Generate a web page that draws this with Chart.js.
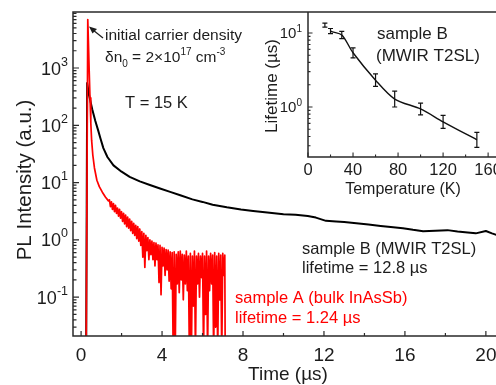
<!DOCTYPE html>
<html>
<head>
<meta charset="utf-8">
<script src="https://cdn.jsdelivr.net/npm/chart.js@4.4.1/dist/chart.umd.min.js"></script>
<style>
  html, body { margin: 0; padding: 0; background: #fff; overflow: hidden; }
  #wrap { position: relative; width: 496px; height: 385px; }
  #main { position: absolute; left: 0; top: 0; }
  #inset { position: absolute; left: 240px; top: 0; }
</style>
</head>
<body>
<div id="wrap">
  <canvas id="main" width="496" height="385"></canvas>
  <canvas id="inset" width="256" height="205"></canvas>
</div>
<script>
// Datos: PL transitorio, muestra A (InAsSb) y muestra B (T2SL)
const redTime = [0.25, 0.33, 0.36, 0.40, 0.44, 0.48, 0.52, 0.58, 0.66, 0.78, 0.90, 1.05, 1.20, 1.35,
  1.40, 1.45, 1.50, 1.55, 1.60, 1.65, 1.70, 1.75, 1.80, 1.85, 1.90, 1.95, 2.00, 2.05, 2.10, 2.15,
  2.20, 2.25, 2.30, 2.35, 2.40, 2.45, 2.50, 2.55, 2.60, 2.65, 2.70, 2.75, 2.80, 2.85, 2.90, 2.95,
  3.00, 3.05, 3.10, 3.15, 3.20, 3.25, 3.30, 3.35, 3.40, 3.45, 3.50, 3.55, 3.60, 3.65, 3.70, 3.75,
  3.80, 3.85, 3.90, 3.95, 4.00, 4.05, 4.10, 4.15, 4.20, 4.25, 4.30, 4.35, 4.40, 4.45, 4.50, 4.55,
  4.60, 4.65, 4.70, 4.75, 4.80, 4.85, 4.90, 4.95, 5.00, 5.05, 5.10, 5.15, 5.20, 5.25, 5.30, 5.35,
  5.40, 5.45, 5.50, 5.55, 5.60, 5.65, 5.70, 5.75, 5.80, 5.85, 5.90, 5.95, 6.00, 6.05, 6.10, 6.15,
  6.20, 6.25, 6.30, 6.35, 6.40, 6.45, 6.50, 6.55, 6.60, 6.65, 6.70, 6.75, 6.80, 6.85, 6.90, 6.95,
  7.00, 7.05, 7.10, 7.12];
const redPL = [0.01, 7000, 3000, 900, 300, 110, 55, 30, 18, 11, 8.5, 6.8, 5.6, 4.8,
  5.0, 3.8, 4.6, 3.4, 4.3, 3.1, 4.0, 2.9, 3.6, 2.6, 3.4, 2.4, 3.1, 2.1, 2.9, 1.9,
  2.7, 1.7, 2.5, 1.6, 2.3, 1.45, 2.1, 1.3, 1.95, 1.2, 1.8, 1.05, 1.7, 0.95, 1.55, 0.8,
  1.4, 0.5, 1.3, 0.33, 1.2, 0.65, 1.1, 0.45, 1.0, 0.55, 0.95, 0.45, 0.9, 0.35, 0.88, 0.45,
  0.82, 0.18, 0.8, 0.11, 0.74, 0.35, 0.72, 0.24, 0.68, 0.3, 0.66, 0.19, 0.62, 0.14, 0.6, 0.01,
  0.62, 0.01, 0.56, 0.17, 0.62, 0.12, 0.64, 0.2, 0.56, 0.09, 0.54, 0.17, 0.64, 0.13, 0.52, 0.01,
  0.58, 0.01, 0.52, 0.07, 0.64, 0.01, 0.52, 0.17, 0.58, 0.1, 0.52, 0.22, 0.58, 0.01, 0.52, 0.05,
  0.64, 0.01, 0.52, 0.13, 0.58, 0.17, 0.54, 0.01, 0.6, 0.03, 0.52, 0.01, 0.58, 0.09, 0.54, 0.01,
  0.58, 0.24, 0.54, 0.01];

const blackTime = [0.25, 0.30, 0.40, 0.55, 0.70, 0.85, 0.95, 1.10, 1.30, 1.60, 2.00, 2.40, 2.90,
  3.40, 3.90, 4.40, 4.90, 5.50, 6.00, 6.50, 7.20, 7.90, 8.50, 9.20, 10.0, 10.6, 11.2, 11.6, 12.1,
  12.6, 13.0, 13.6, 14.2, 14.8, 15.3, 15.9, 16.4, 16.9, 17.5, 18.1, 18.6, 19.1, 19.5, 20.0, 20.3, 20.6];
const blackPL = [0.01, 550, 330, 190, 120, 80, 60, 40, 28, 20, 15.5, 12.6, 10.5,
  9.1, 7.9, 6.9, 6.0, 5.1, 4.6, 4.1, 3.7, 3.4, 3.2, 3.0, 2.8, 2.75, 2.6, 2.45, 2.15,
  2.1, 2.05, 1.95, 1.85, 1.75, 1.68, 1.6, 1.5, 1.42, 1.45, 1.48, 1.4, 1.35, 1.3, 1.43, 1.3, 1.2];

const timeTicks = [0, 4, 8, 12, 16, 20];
const plDecades = [-1, 0, 1, 2, 3];

// Inserto: tiempo de vida vs temperatura
const tempK = [15, 20, 30, 40, 60, 77, 100, 120, 150];
const lifeUs = [12.8, 10.6, 9.4, 5.4, 2.3, 1.28, 0.94, 0.63, 0.36];
const lifeLow = [12.0, 9.8, 8.4, 4.6, 1.9, 1.0, 0.78, 0.515, 0.285];
const lifeHigh = [13.6, 11.5, 10.5, 6.3, 2.8, 1.64, 1.13, 0.77, 0.455];
const tempTicks = [0, 40, 80, 120, 160];
const lifeDecades = [0, 1];

const FONT = '"Liberation Sans", Arial, Helvetica, sans-serif';
const INK = '#1c1c1c';
const RED = '#ff0000';

function toXY(xs, ys) {
  return xs.map((x, i) => ({ x: x, y: ys[i] }));
}

// texto con super/subíndices: parts = [[texto, 'n'|'sup'|'sub'], ...]
function richText(ctx, x, y, parts, size, small, shift, align) {
  const fontOf = k => (k === 'n' ? size : small) + 'px ' + FONT;
  let total = 0;
  parts.forEach(p => { ctx.font = fontOf(p[1]); total += ctx.measureText(p[0]).width; });
  let cx = align === 'right' ? x - total : align === 'center' ? x - total / 2 : x;
  ctx.save();
  ctx.textAlign = 'left';
  ctx.textBaseline = 'alphabetic';
  parts.forEach(p => {
    ctx.font = fontOf(p[1]);
    const dy = p[1] === 'sup' ? -shift : p[1] === 'sub' ? shift * 0.7 : 0;
    ctx.fillText(p[0], cx, y + dy);
    cx += ctx.measureText(p[0]).width;
  });
  ctx.restore();
}

function logTicks(decades, lo, hi) {
  const out = [];
  for (let e = decades[0] - 1; e <= decades[decades.length - 1] + 1; e++) {
    for (let m = 1; m <= 9; m++) {
      const v = m * Math.pow(10, e);
      if (v >= lo && v <= hi) out.push({ v: v, major: m === 1 });
    }
  }
  return out;
}

const mainDecor = {
  id: 'mainDecor',
  afterDraw(chart) {
    const { ctx, chartArea: a, scales: { x, y } } = chart;
    ctx.save();
    ctx.strokeStyle = '#2a2a2a';
    ctx.lineWidth = 1.5;
    ctx.beginPath();
    ctx.moveTo(a.right, a.top); ctx.lineTo(a.left, a.top);
    ctx.lineTo(a.left, a.bottom); ctx.lineTo(a.right, a.bottom);
    ctx.stroke();

    ctx.lineWidth = 1.2;
    ctx.beginPath();
    for (let t = 0; t <= 20; t += 2) {
      const px = x.getPixelForValue(t);
      ctx.moveTo(px, a.bottom);
      ctx.lineTo(px, a.bottom - (t % 4 === 0 ? 5 : 3));
    }
    logTicks(plDecades, y.min, y.max).forEach(tk => {
      const py = y.getPixelForValue(tk.v);
      ctx.moveTo(a.left, py);
      ctx.lineTo(a.left + (tk.major ? 6 : 3.5), py);
    });
    ctx.stroke();

    ctx.fillStyle = INK;
    ctx.font = '19px ' + FONT;
    ctx.textAlign = 'center';
    ctx.textBaseline = 'alphabetic';
    timeTicks.forEach(t => ctx.fillText(String(t), x.getPixelForValue(t), 361));
    plDecades.forEach(e => {
      const py = y.getPixelForValue(Math.pow(10, e));
      richText(ctx, 68, py + 6.5, [['10', 'n'], [String(e), 'sup']], 18, 12.5, 9, 'right');
    });

    ctx.font = '19px ' + FONT;
    ctx.textAlign = 'center';
    ctx.fillText('Time (\u00b5s)', 288, 380);
    ctx.save();
    ctx.translate(31, 180);
    ctx.rotate(-Math.PI / 2);
    ctx.font = '20.5px ' + FONT;
    ctx.fillText('PL Intensity (a.u.)', 0, 0);
    ctx.restore();

    // flecha
    ctx.strokeStyle = INK;
    ctx.lineWidth = 1.3;
    ctx.beginPath();
    ctx.moveTo(103, 38); ctx.lineTo(93, 30);
    ctx.stroke();
    ctx.beginPath();
    ctx.moveTo(89, 26.5); ctx.lineTo(97, 29); ctx.lineTo(92.5, 33.5); ctx.closePath();
    ctx.fill();

    ctx.font = '15.5px ' + FONT;
    ctx.textAlign = 'left';
    ctx.fillText('initial carrier density', 105, 40);
    richText(ctx, 105, 62, [['\u03b4n', 'n'], ['0', 'sub'], [' = 2\u00d710', 'n'], ['17', 'sup'], [' cm', 'n'], ['-3', 'sup']], 15.5, 10, 7.5, 'left');
    ctx.font = '16.5px ' + FONT;
    ctx.fillText('T = 15 K', 125, 108);
    ctx.fillText('sample B (MWIR T2SL)', 302, 254);
    ctx.fillText('lifetime = 12.8 \u00b5s', 302, 273);
    ctx.fillStyle = RED;
    ctx.fillText('sample A (bulk InAsSb)', 235, 303);
    ctx.fillText('lifetime = 1.24 \u00b5s', 235, 323);
    ctx.restore();
  }
};

new Chart(document.getElementById('main'), {
  type: 'line',
  data: {
    datasets: [
      { data: toXY(redTime, redPL), borderColor: RED, borderWidth: 1.7, pointRadius: 0, borderJoinStyle: 'round' },
      { data: toXY(blackTime, blackPL), borderColor: '#000', borderWidth: 2, pointRadius: 0, borderJoinStyle: 'round' }
    ]
  },
  options: {
    responsive: false,
    animation: false,
    layout: { padding: { left: 73, top: 12, right: 0, bottom: 49 } },
    plugins: { legend: { display: false }, tooltip: { enabled: false } },
    scales: {
      x: { type: 'linear', min: -0.4, max: 20.5, display: false },
      y: { type: 'logarithmic', min: 0.021, max: 9500, display: false }
    }
  },
  plugins: [mainDecor]
});

const insetDecor = {
  id: 'insetDecor',
  afterDatasetsDraw(chart) {
    const { ctx, scales: { x, y } } = chart;
    ctx.save();
    ctx.strokeStyle = '#111';
    ctx.lineWidth = 1.2;
    ctx.beginPath();
    tempK.forEach((t, i) => {
      const px = x.getPixelForValue(t);
      const y1 = y.getPixelForValue(lifeLow[i]);
      const y2 = y.getPixelForValue(lifeHigh[i]);
      ctx.moveTo(px, y1); ctx.lineTo(px, y2);
      ctx.moveTo(px - 2.5, y1); ctx.lineTo(px + 2.5, y1);
      ctx.moveTo(px - 2.5, y2); ctx.lineTo(px + 2.5, y2);
    });
    ctx.stroke();
    ctx.restore();
  },
  afterDraw(chart) {
    const { ctx, chartArea: a, scales: { x, y } } = chart;
    ctx.save();
    ctx.strokeStyle = '#2a2a2a';
    ctx.lineWidth = 1.5;
    ctx.beginPath();
    ctx.moveTo(a.left, a.top); ctx.lineTo(a.left, a.bottom); ctx.lineTo(a.right, a.bottom);
    ctx.stroke();

    ctx.lineWidth = 1.1;
    ctx.beginPath();
    for (let t = 0; t <= 160; t += 20) {
      const px = x.getPixelForValue(t);
      ctx.moveTo(px, a.bottom);
      ctx.lineTo(px, a.bottom - (t % 40 === 0 ? 4.5 : 2.5));
    }
    logTicks(lifeDecades, y.min, y.max).forEach(tk => {
      const py = y.getPixelForValue(tk.v);
      ctx.moveTo(a.left, py);
      ctx.lineTo(a.left + (tk.major ? 4.5 : 2.5), py);
    });
    ctx.stroke();

    ctx.fillStyle = INK;
    ctx.font = '16.5px ' + FONT;
    ctx.textAlign = 'center';
    ctx.textBaseline = 'alphabetic';
    tempTicks.forEach(t => ctx.fillText(String(t), x.getPixelForValue(t), 175));
    lifeDecades.forEach(e => {
      const py = y.getPixelForValue(Math.pow(10, e));
      richText(ctx, 62, py + 5.5, [['10', 'n'], [String(e), 'sup']], 15, 10, 6.5, 'right');
    });
    ctx.font = '16px ' + FONT;
    ctx.textAlign = 'center';
    ctx.fillText('Temperature (K)', 163, 194);
    ctx.save();
    ctx.translate(37, 86);
    ctx.rotate(-Math.PI / 2);
    ctx.font = '17px ' + FONT;
    ctx.textAlign = 'center';
    ctx.fillText('Lifetime (\u00b5s)', 0, 0);
    ctx.restore();
    ctx.font = '17px ' + FONT;
    ctx.textAlign = 'left';
    ctx.fillText('sample B', 137, 39);
    ctx.fillText('(MWIR T2SL)', 136, 61);
    ctx.restore();
  }
};

new Chart(document.getElementById('inset'), {
  type: 'line',
  data: {
    datasets: [{
      data: toXY(tempK, lifeUs),
      borderColor: '#111',
      borderWidth: 1.4,
      pointRadius: 0,
      tension: 0.3,
      segment: { borderColor: c => (c.p0DataIndex === 0 ? 'rgba(0,0,0,0)' : '#111') }
    }]
  },
  options: {
    responsive: false,
    animation: false,
    layout: { padding: { left: 68, top: 12, right: 0, bottom: 48 } },
    plugins: { legend: { display: false }, tooltip: { enabled: false } },
    scales: {
      x: { type: 'linear', min: 0, max: 167, display: false },
      y: { type: 'logarithmic', min: 0.211, max: 19.2, display: false }
    }
  },
  plugins: [insetDecor]
});
</script>
</body>
</html>
